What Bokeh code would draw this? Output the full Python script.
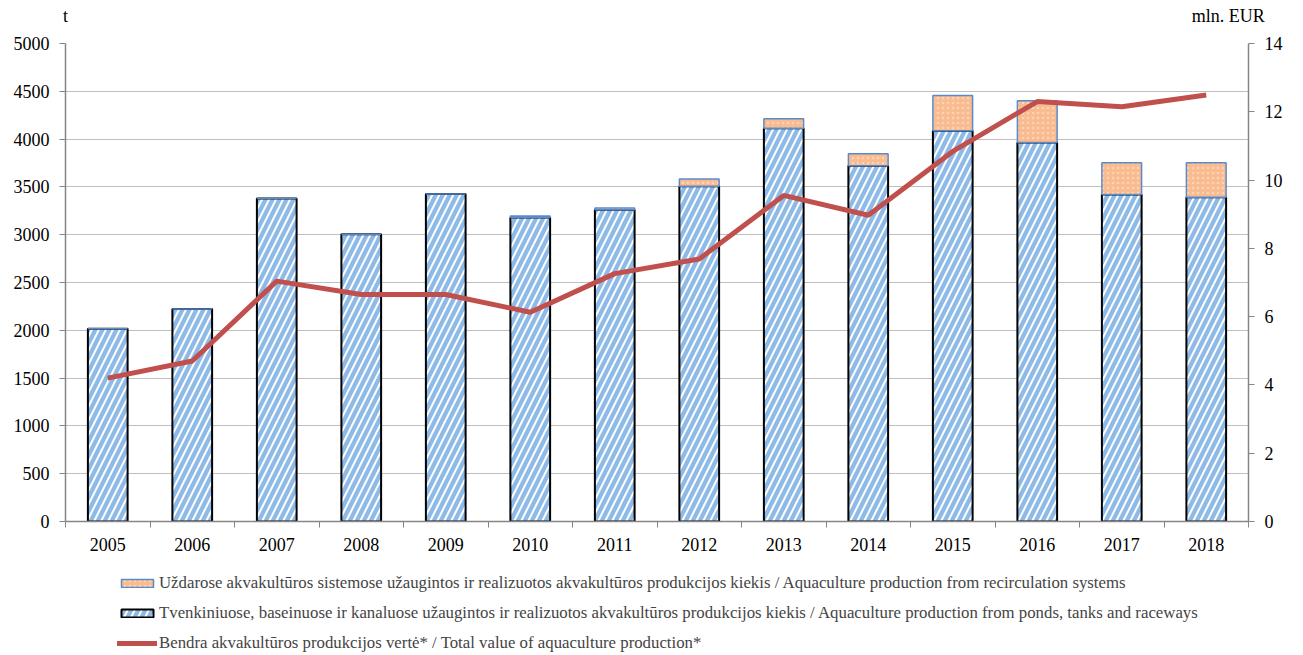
from bokeh.plotting import figure
from bokeh.layouts import column
from bokeh.models import (Range1d, LinearAxis, FixedTicker, Legend, LegendItem, ColumnDataSource)
from bokeh.embed import file_html
from bokeh.resources import INLINE

years = ["2005", "2006", "2007", "2008", "2009", "2010", "2011", "2012", "2013", "2014", "2015", "2016", "2017", "2018"]
ponds = [2015, 2224, 3378, 3006, 3425, 3180, 3262, 3508, 4113, 3720, 4088, 3965, 3421, 3392]
recirc = [0, 0, 0, 0, 0, 15, 18, 75, 100, 126, 368, 437, 332, 361]
value_mln = [4.20, 4.70, 7.04, 6.65, 6.65, 6.13, 7.26, 7.69, 9.55, 8.97, 10.84, 12.30, 12.15, 12.49]
left_ticks = [0, 500, 1000, 1500, 2000, 2500, 3000, 3500, 4000, 4500, 5000]
right_ticks = [0, 2, 4, 6, 8, 10, 12, 14]
unit_left = "t"
unit_right = "mln. EUR"

label_recirc = "Uždarose akvakultūros sistemose užaugintos ir realizuotos akvakultūros produkcijos kiekis / Aquaculture production from recirculation systems"
label_ponds = "Tvenkiniuose, baseinuose ir kanaluose užaugintos ir realizuotos akvakultūros produkcijos kiekis / Aquaculture production from ponds, tanks and raceways"
label_value = "Bendra akvakultūros produkcijos vertė* / Total value of aquaculture production*"

FONT = "Liberation Serif"
TICK_FS = "18px"
n = len(years)
xc = [i + 0.5 for i in range(n)]
tops = [p + r for p, r in zip(ponds, recirc)]

src = ColumnDataSource(dict(x=xc, ponds=ponds, tops=tops, val=value_mln))

ponds_style = dict(fill_color="#8DBAE6", line_color="black", line_width=2,
                   hatch_pattern="/", hatch_color="white", hatch_scale=14, hatch_weight=2)
rec_style = dict(fill_color="#F9BB90", line_color="#5B8ACB", line_width=1.5,
                 hatch_pattern=".", hatch_color="#FCD5B8", hatch_scale=5, hatch_weight=0.8)
line_style = dict(line_color="#C0504D", line_width=5)

p = figure(width=1303, height=560, output_backend="svg", toolbar_location=None,
           x_range=Range1d(0, n), y_range=Range1d(0, 5000),
           min_border_left=65, min_border_right=55, min_border_top=43, min_border_bottom=39)
p.extra_y_ranges = {"val": Range1d(0, 14)}
p.outline_line_color = None
p.background_fill_color = "white"

xaxis = p.below[0]
yaxis = p.left[0]

xaxis.ticker = FixedTicker(ticks=xc, minor_ticks=list(range(n + 1)))
xaxis.major_label_overrides = {x: y for x, y in zip(xc, years)}
xaxis.major_tick_line_color = None
xaxis.minor_tick_in = 0
xaxis.minor_tick_out = 6
xaxis.minor_tick_line_color = "#868686"
xaxis.axis_line_color = "#868686"
xaxis.axis_line_width = 1.5

yaxis.ticker = FixedTicker(ticks=left_ticks)
yaxis.major_tick_in = 0
yaxis.major_tick_out = 6
yaxis.minor_tick_line_color = None
yaxis.axis_line_color = "#868686"
yaxis.major_tick_line_color = "#868686"
yaxis.axis_line_width = 1.5

raxis = LinearAxis(y_range_name="val", ticker=FixedTicker(ticks=right_ticks))
raxis.major_tick_in = 0
raxis.major_tick_out = 6
raxis.minor_tick_line_color = None
raxis.axis_line_color = "#868686"
raxis.major_tick_line_color = "#868686"
raxis.axis_line_width = 1.5
p.add_layout(raxis, "right")

# unit labels as an invisible top axis
uaxis = LinearAxis(ticker=FixedTicker(ticks=[0, 13.76]))
uaxis.major_label_overrides = {0: unit_left, 13.76: unit_right}
uaxis.axis_line_color = None
uaxis.major_tick_line_color = None
uaxis.minor_tick_line_color = None
p.add_layout(uaxis, "above")

for ax in [xaxis, yaxis, raxis, uaxis]:
    ax.major_label_text_font = FONT
    ax.major_label_text_font_size = TICK_FS
    ax.major_label_text_color = "black"
xaxis.major_label_standoff = 10
yaxis.major_label_standoff = 10
raxis.major_label_standoff = 10
uaxis.major_label_standoff = 12

p.xgrid.grid_line_color = None
p.ygrid.ticker = FixedTicker(ticks=left_ticks)
p.ygrid.grid_line_color = "#BFBFBF"
p.ygrid.grid_line_width = 1.2

p.vbar(x="x", bottom=0, top="ponds", width=0.47, source=src, **ponds_style)
p.vbar(x="x", bottom="ponds", top="tops", width=0.47, source=src, **rec_style)
p.line(x="x", y="val", y_range_name="val", source=src, **line_style)

# legend figure (swatch renderers have no drawable data)
nan = float("nan")
lg = figure(width=1303, height=95, output_backend="svg", toolbar_location=None,
            x_range=Range1d(0, 1), y_range=Range1d(0, 1),
            min_border_left=0, min_border_right=0, min_border_top=0, min_border_bottom=0)
lg.axis.visible = False
lg.grid.visible = False
lg.outline_line_color = None
hidden = ColumnDataSource(dict(x=[nan, nan], bottom=[nan, nan], top=[nan, nan], y=[nan, nan]))
d_rec = lg.vbar(x="x", bottom="bottom", top="top", width=0.1, source=hidden, **rec_style)
d_ponds = lg.vbar(x="x", bottom="bottom", top="top", width=0.1, source=hidden, **ponds_style)
d_line = lg.line(x="x", y="y", source=hidden, line_cap="round", **line_style)

legend = Legend(items=[LegendItem(label=label_recirc, renderers=[d_rec]),
                       LegendItem(label=label_ponds, renderers=[d_ponds]),
                       LegendItem(label=label_value, renderers=[d_line])],
                location=(52, 2), orientation="vertical")
legend.label_text_font = FONT
legend.label_text_font_size = "16.8px"
legend.glyph_width = 40
legend.glyph_height = 10
legend.label_height = 20
legend.label_standoff = 2
legend.spacing = 10
legend.padding = 0
legend.margin = 0
legend.border_line_color = None
legend.background_fill_alpha = 0
lg.add_layout(legend, "center")

open("out.html", "w").write(file_html(column(p, lg, spacing=0), INLINE))
